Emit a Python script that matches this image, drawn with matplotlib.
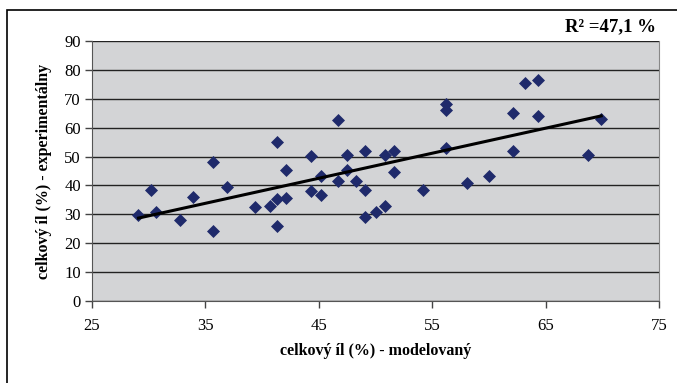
import numpy as np
import matplotlib
matplotlib.use("Agg")
from matplotlib import pyplot as plt
from matplotlib.patches import Rectangle

# celkovy il - modelovany (x) vs experimentalny (y)
modelovany = [29.1, 30.2, 30.6, 32.8, 33.9, 35.7, 35.7, 36.9, 39.4, 40.7,
              41.3, 41.3, 41.3, 42.1, 42.1, 44.3, 44.3, 45.2, 45.2, 46.7,
              46.7, 47.5, 47.5, 48.3, 49.1, 49.1, 49.1, 50.0, 50.8, 50.8,
              51.6, 51.6, 54.2, 56.2, 56.2, 56.2, 58.1, 60.0, 62.1, 62.1,
              63.2, 64.3, 64.3, 68.7, 69.9]
experimentalny = [29.7, 38.3, 30.8, 28.2, 36.1, 48.0, 24.4, 39.5, 32.4, 32.9,
                  35.2, 55.0, 26.0, 35.7, 45.2, 50.1, 38.0, 43.2, 36.6, 62.5,
                  41.5, 50.7, 45.5, 41.7, 51.8, 38.4, 29.2, 30.7, 50.7, 32.8,
                  51.8, 44.8, 38.4, 68.3, 66.2, 53.0, 41.0, 43.2, 65.2, 51.8,
                  75.5, 76.5, 64.2, 50.7, 63.0]
x_ticks = [25, 35, 45, 55, 65, 75]
y_ticks = [0, 10, 20, 30, 40, 50, 60, 70, 80, 90]
r2_text = "R² =47,1 %"

plt.rcParams['font.family'] = ['Liberation Serif', 'DejaVu Serif']

fig = plt.figure(figsize=(6.77, 3.83), dpi=100)
W, H = 677, 383

# outer chart border (only left and top visible, the rest is cropped)
fig.add_artist(Rectangle((7 / W, -0.1), 1.2, (H - 10) / H + 0.1,
                         transform=fig.transFigure, fill=False,
                         edgecolor='black', linewidth=1.2))

ax = fig.add_axes([92 / W, (H - 301) / H, (659 - 92) / W, (301 - 41) / H])
ax.set_facecolor('#d3d4d6')

ax.set_xlim(25, 75)
ax.set_ylim(0, 90)
ax.set_xticks(x_ticks)
ax.set_yticks(y_ticks)
ax.yaxis.grid(True, color='#222222', linewidth=1.0)
ax.set_axisbelow(True)

ax.spines['top'].set_visible(False)
ax.spines['right'].set_color('#888888')
ax.spines['left'].set_color('#555555')
ax.spines['bottom'].set_color('#555555')

ax.tick_params(axis='both', direction='out', length=5, width=1,
               color='#444444', labelsize=12)
ax.tick_params(axis='x', pad=7)
ax.tick_params(axis='y', pad=3)

ax.scatter(modelovany, experimentalny, marker='D', s=44,
           color='#1f2a6b', zorder=3, linewidths=0)

# linear trend
k, q = np.polyfit(modelovany, experimentalny, 1)
xs = np.array([min(modelovany), max(modelovany)])
ax.plot(xs, k * xs + q, color='black', linewidth=2.2, zorder=4)

ax.set_xlabel("celkový íl (%) - modelovaný", fontsize=11.5,
              fontweight='bold', labelpad=7)
ax.set_ylabel("celkový íl (%) - experimentálny", fontsize=11.5,
              fontweight='bold', labelpad=9)

fig.text(656 / W, (H - 27) / H, r2_text, ha='right', va='center',
         fontsize=13.5, fontweight='bold')

fig.savefig("out.png", dpi=100)
